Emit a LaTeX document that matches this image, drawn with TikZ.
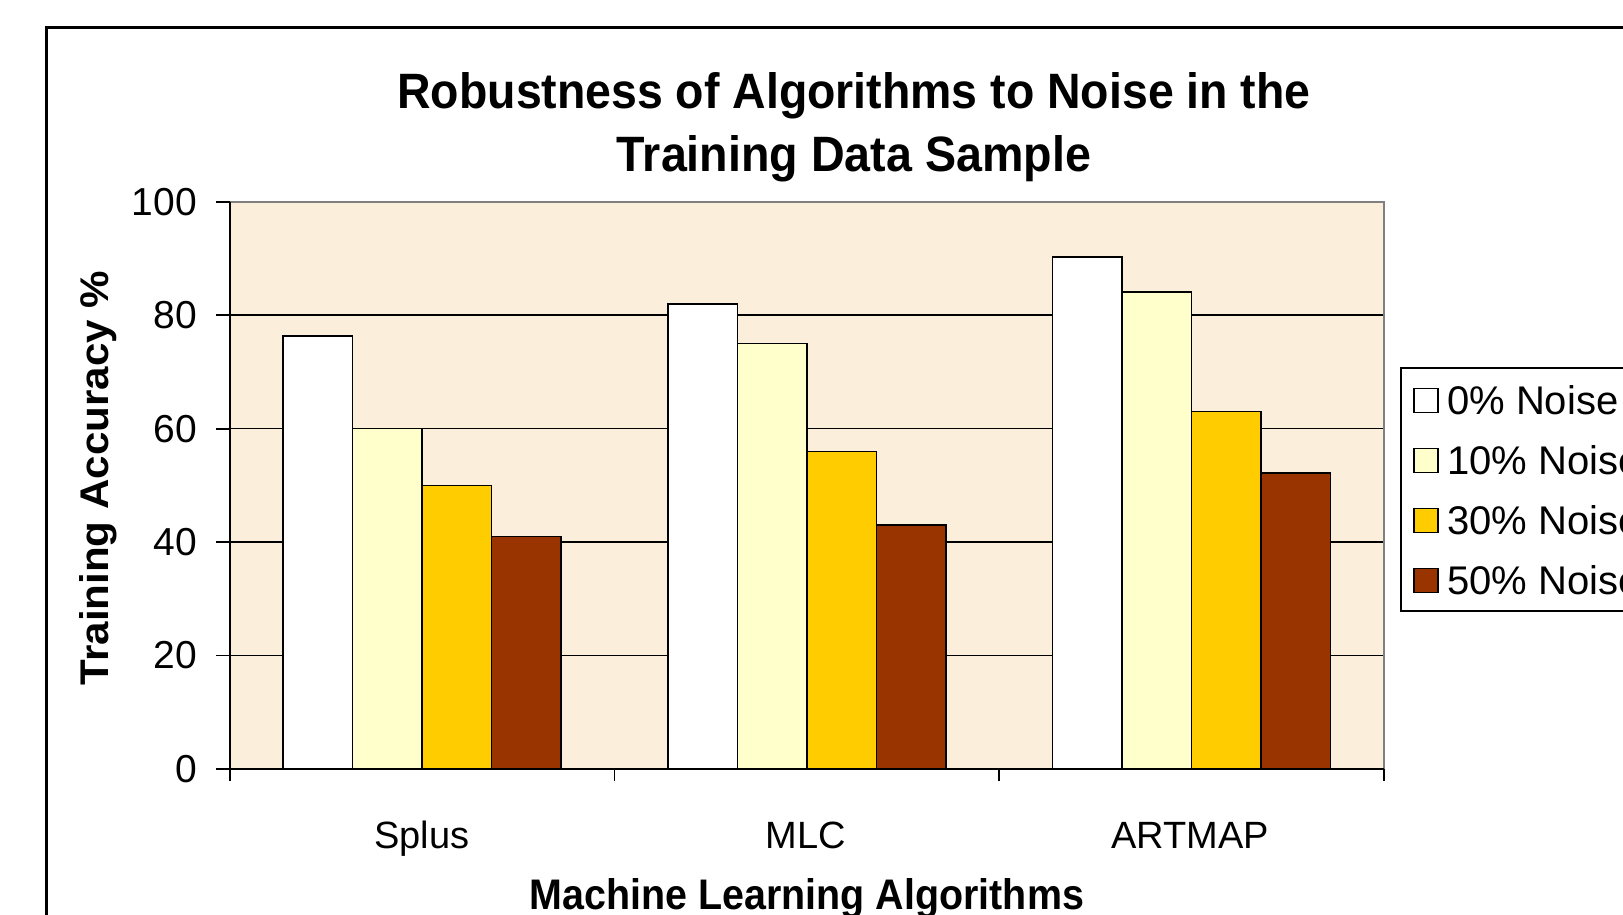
\documentclass[tikz,border=0pt]{standalone}
\usepackage{fontspec}
\setmainfont{Liberation Sans}
\usepackage{graphicx}
\definecolor{plotbg}{HTML}{FBEFDB}
\definecolor{sone}{HTML}{FFFFFF}
\definecolor{stwo}{HTML}{FFFFCC}
\definecolor{sthree}{HTML}{FFCC00}
\definecolor{sfour}{HTML}{993300}
\newcommand{\chartbar}[4]{%
  \pgfmathsetmacro{\xl}{229.8+#1*384.7+53.35+#2*69.5}%
  \pgfmathsetmacro{\xr}{\xl+69.5}%
  \pgfmathsetmacro{\yt}{769-5.672*#3}%
  \filldraw[barstyle, fill=#4] (\xl,\yt) rectangle (\xr,769);%
}
\begin{document}
\begin{tikzpicture}[x=1pt,y=-1pt,
  barstyle/.style={draw=black, line width=1.6pt},
  gridline/.style={draw=black, line width=1.6pt},
  axisline/.style={draw=black, line width=1.8pt},
  ticklabel/.style={font=\fontsize{39}{40}\selectfont, inner sep=0pt},
  catlabel/.style={font=\fontsize{38}{40}\selectfont, inner sep=0pt, anchor=base},
  legtext/.style={font=\fontsize{40}{42}\selectfont, inner sep=0pt, anchor=west},
  legsq/.style={draw=black, line width=1.6pt}]
\useasboundingbox (0,0) rectangle (1623,915);
\clip (0,0) rectangle (1623,915);
\fill[white] (0,0) rectangle (1623,915);
% outer frame
\draw[line width=3pt] (46.6,1000) -- (46.6,28) -- (1700,28);
% plot area
\fill[plotbg] (229.8,201.8) rectangle (1384,769);
\foreach \v in {20,40,60,80} {
  \pgfmathsetmacro{\yy}{769-5.672*\v}
  \draw[gridline] (229.8,\yy) -- (1384,\yy);
}
\draw[draw=gray, line width=1.6pt] (229.8,201.8) -- (1384,201.8) -- (1384,769);
% bars
\chartbar{0}{0}{76.3}{sone}
\chartbar{0}{1}{60}{stwo}
\chartbar{0}{2}{50}{sthree}
\chartbar{0}{3}{41}{sfour}
\chartbar{1}{0}{82}{sone}
\chartbar{1}{1}{75}{stwo}
\chartbar{1}{2}{56}{sthree}
\chartbar{1}{3}{43}{sfour}
\chartbar{2}{0}{90.3}{sone}
\chartbar{2}{1}{84.1}{stwo}
\chartbar{2}{2}{63}{sthree}
\chartbar{2}{3}{52.2}{sfour}
% axes
\draw[axisline] (229.8,201.8) -- (229.8,769) -- (1384,769);
\foreach \v in {0,20,40,60,80,100} {
  \pgfmathsetmacro{\yy}{769-5.672*\v}
  \draw[axisline] (216,\yy) -- (229.8,\yy);
  \node[ticklabel, anchor=east] (yl\v) at (197,\yy) {\v};
}
\foreach \k in {0,1,2,3} {
  \pgfmathsetmacro{\xx}{229.8+384.7*\k}
  \draw[axisline] (\xx,769) -- (\xx,781);
}
% category labels
\node[catlabel] (c1) at (422,848) {Splus};
\node[catlabel] (c2) at (806,848) {MLC};
\node[catlabel] (c3) at (1190,848) {ARTMAP};
% titles
\node[inner sep=0pt, anchor=base] (t1) at (854,108.7) {\resizebox{913pt}{36pt}{\bfseries Robustness of Algorithms to Noise in the}};
\node[inner sep=0pt, anchor=base] (t2) at (854,171.8) {\resizebox{474pt}{36pt}{\bfseries Training Data Sample}};
\node[inner sep=0pt, anchor=base, rotate=90] (ya) at (108.7,478) {\resizebox{414pt}{29pt}{\bfseries Training Accuracy \%}};
\node[inner sep=0pt, anchor=base] (xa) at (807,909) {\resizebox{554pt}{31pt}{\bfseries Machine Learning Algorithms}};
% legend
\filldraw[fill=white, draw=black, line width=2pt] (1400.5,367.5) rectangle (1700,610.7);
\foreach \i/\c/\t in {0/sone/0\% Noise,1/stwo/10\% Noise,2/sthree/30\% Noise,3/sfour/50\% Noise} {
  \pgfmathsetmacro{\yy}{400.6+60*\i}
  \filldraw[legsq, fill=\c] (1414,\yy-12) rectangle (1438,\yy+12);
  \node[legtext] (lg\i) at (1447,\yy) {\t};
}
\end{tikzpicture}
\end{document}
